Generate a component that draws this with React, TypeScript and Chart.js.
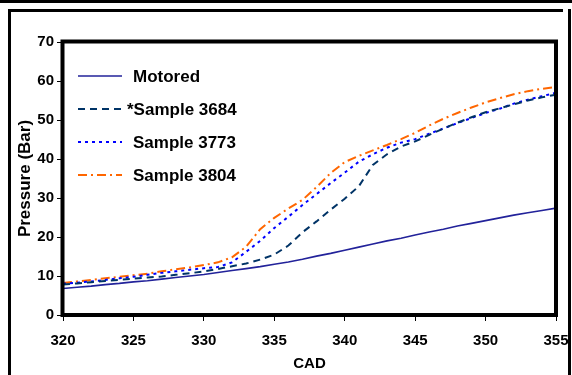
import React, { useEffect, useRef } from "react";
import { Chart, registerables } from "chart.js";

Chart.register(...registerables);

const cad = [320, 321, 322, 323, 324, 325, 326, 327, 328, 329, 330, 331, 332, 333, 334, 335, 336, 337, 338, 339, 340, 341, 342, 343, 344, 345, 346, 347, 348, 349, 350, 351, 352, 353, 354, 355];

const motored = [6.8, 7.1, 7.4, 7.8, 8.1, 8.5, 8.8, 9.2, 9.6, 10.0, 10.4, 10.9, 11.4, 11.9, 12.4, 13.0, 13.6, 14.3, 15.1, 15.8, 16.6, 17.4, 18.2, 19.0, 19.7, 20.5, 21.3, 22.0, 22.8, 23.5, 24.2, 24.9, 25.6, 26.2, 26.8, 27.4];

const sample3684 = [7.8, 8.1, 8.4, 8.7, 9.0, 9.3, 9.6, 9.9, 10.3, 10.7, 11.2, 11.8, 12.5, 13.2, 14.2, 15.5, 17.8, 21.2, 24.0, 27.0, 29.8, 33.0, 38.5, 41.2, 43.2, 44.5, 46.2, 47.8, 49.3, 50.7, 52.0, 53.0, 54.0, 55.0, 55.8, 56.5];

const sample3773 = [8.0, 8.3, 8.6, 9.0, 9.4, 9.8, 10.3, 10.8, 11.2, 11.6, 12.0, 12.3, 13.5, 16.2, 19.0, 22.3, 25.2, 28.2, 31.0, 33.8, 36.5, 39.3, 41.2, 42.9, 44.2, 45.1, 46.5, 47.8, 49.2, 50.5, 51.8, 52.9, 54.2, 55.2, 56.1, 57.0];

const sample3804 = [8.2, 8.6, 9.0, 9.4, 9.8, 10.2, 10.6, 11.2, 11.7, 12.2, 12.8, 13.5, 14.8, 17.5, 22.0, 24.9, 27.3, 29.5, 32.8, 36.4, 39.2, 40.8, 42.2, 43.6, 45.1, 46.7, 48.6, 50.3, 51.8, 53.2, 54.5, 55.6, 56.6, 57.4, 58.0, 58.5];

const seriesLabels = ["Motored", "*Sample 3684", "Sample 3773", "Sample 3804"];
const seriesColors = ["#22229a", "#003366", "#0000ff", "#ff6600"];
const seriesDashes: number[][] = [[], [7, 5], [3, 4], [9, 4, 2, 4]];
const seriesWidths = [1.6, 2, 2, 2];

const FONT = "'Liberation Sans', Arial, sans-serif";

export default function App() {
  const ref = useRef<HTMLCanvasElement | null>(null);

  useEffect(() => {
    document.body.style.margin = "0";
    const canvas = ref.current;
    if (!canvas) return;
    const all = [motored, sample3684, sample3773, sample3804];

    const framePlugin = {
      id: "frames",
      afterDraw(chart: any) {
        const ctx = chart.ctx;
        const a = chart.chartArea;
        ctx.save();
        ctx.strokeStyle = "#000";
        ctx.lineWidth = 4;
        ctx.setLineDash([]);
        ctx.strokeRect(a.left - 0.5, a.top - 0.5, a.right - a.left + 0.5, a.bottom - a.top + 0.5);
        ctx.fillStyle = "#000";
        ctx.fillRect(0, 0, 572, 3);
        ctx.fillRect(8, 9, 563 - 8, 3);
        ctx.fillRect(8, 9, 3, 375 - 9);
        ctx.fillRect(568, 9, 3, 375 - 9);
        const rows = [76, 109, 142, 175];
        for (let i = 0; i < 4; i++) {
          const y = rows[i];
          ctx.beginPath();
          ctx.strokeStyle = seriesColors[i];
          ctx.lineWidth = seriesWidths[i];
          ctx.setLineDash(seriesDashes[i]);
          ctx.moveTo(78, y);
          ctx.lineTo(122, y);
          ctx.stroke();
          ctx.setLineDash([]);
          ctx.fillStyle = "#000";
          ctx.font = `bold 17px ${FONT}`;
          ctx.textBaseline = "middle";
          ctx.textAlign = "left";
          const tx = seriesLabels[i].startsWith("*") ? 127 : 133;
          ctx.fillText(seriesLabels[i], tx, y + 1);
        }
        ctx.restore();
      },
    };

    const chart = new Chart(canvas, {
      type: "line",
      data: {
        datasets: all.map((vals, i) => ({
          label: seriesLabels[i],
          data: cad.map((c, j) => ({ x: c, y: vals[j] })),
          borderColor: seriesColors[i],
          borderWidth: seriesWidths[i],
          borderDash: seriesDashes[i],
          pointRadius: 0,
          fill: false,
          tension: 0,
        })),
      },
      options: {
        animation: false,
        responsive: false,
        maintainAspectRatio: false,
        layout: { padding: { left: 0, top: 42, right: 16, bottom: 0 } },
        plugins: { legend: { display: false }, tooltip: { enabled: false } },
        scales: {
          x: {
            type: "linear",
            min: 320,
            max: 355,
            afterFit: (s: any) => { s.height = 60; s.paddingLeft = 0; s.paddingRight = 0; },
            ticks: {
              stepSize: 5,
              autoSkip: false,
              color: "#000",
              padding: 11,
              maxRotation: 0,
              font: { family: FONT, size: 15, weight: "bold" },
            },
            grid: { drawOnChartArea: false, drawTicks: true, tickLength: 6, color: "#000", lineWidth: 1 },
            border: { display: false },
            title: {
              display: true,
              text: "CAD",
              color: "#000",
              font: { family: FONT, size: 15, weight: "bold" },
              padding: { top: 0, bottom: 2 },
            },
          },
          y: {
            min: 0,
            max: 70,
            afterFit: (s: any) => { s.width = 63; s.paddingTop = 0; s.paddingBottom = 0; },
            ticks: {
              stepSize: 10,
              autoSkip: false,
              color: "#000",
              padding: 3,
              font: { family: FONT, size: 15, weight: "bold" },
            },
            grid: { drawOnChartArea: false, drawTicks: true, tickLength: 6, color: "#000", lineWidth: 1 },
            border: { display: false },
            title: {
              display: true,
              text: "Pressure (Bar)",
              color: "#000",
              font: { family: FONT, size: 17, weight: "bold" },
              padding: { top: 15, bottom: 0 },
            },
          },
        },
      },
      plugins: [framePlugin],
    } as any);

    return () => chart.destroy();
  }, []);

  return (
    <div style={{ width: 572, height: 375 }}>
      <canvas ref={ref} width={572} height={375} style={{ display: "block", width: 572, height: 375 }} />
    </div>
  );
}
